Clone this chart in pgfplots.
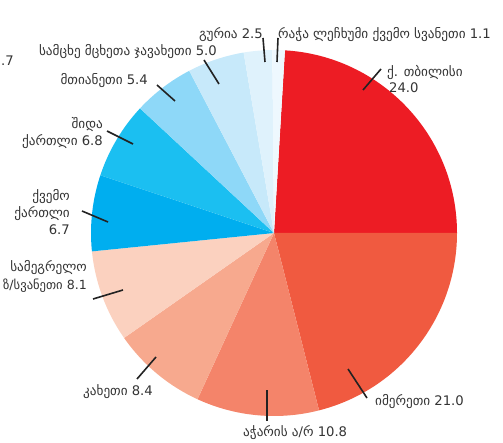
\documentclass[border=0pt]{standalone}
\usepackage{pgfplots}
\usepackage{pgfplotstable}
\pgfplotsset{compat=1.18}
\usepackage{fontspec}
\setmainfont{DejaVu Sans}
\definecolor{c0}{HTML}{ED1C24}
\definecolor{c1}{HTML}{F05A40}
\definecolor{c2}{HTML}{F4846A}
\definecolor{c3}{HTML}{F7A98E}
\definecolor{c4}{HTML}{FBD1BF}
\definecolor{c5}{HTML}{00AEEF}
\definecolor{c6}{HTML}{1BBFF1}
\definecolor{c7}{HTML}{8ED8F8}
\definecolor{c8}{HTML}{C7E9FA}
\definecolor{c9}{HTML}{DFF2FC}
\definecolor{c10}{HTML}{EEF8FE}
\definecolor{labeltext}{HTML}{333333}
\definecolor{leadercol}{HTML}{222222}
\pgfplotstableread{
region value
Tbilisi 24.0
Imereti 21.0
Adjara 10.8
Kakheti 8.4
Samegrelo 8.1
KvemoKartli 6.7
ShidaKartli 6.8
Mtianeti 5.4
Samtskhe 5.0
Guria 2.5
Racha 1.1
}\piedata
\begin{document}
\begin{tikzpicture}[lbl/.style={font=\fontsize{13.2}{15}\selectfont, text=labeltext, inner sep=0pt},
  leader/.style={line width=1.6pt, color=leadercol, no markers}]
\begin{axis}[x=1pt,y=1pt, xmin=0,xmax=503,ymin=0,ymax=442, hide axis, clip=false,
  disabledatascaling, anchor=south west, at={(0,0)}]
\pgfplotstablegetrowsof{\piedata}
\pgfmathtruncatemacro\nlast{\pgfplotsretval-1}
\def\cum{0}
\pgfmathsetmacro\total{99.8}
\pgfmathsetmacro\startang{24.0/\total*360}
\pgfplotsforeachungrouped \i in {0,...,\nlast}{%
  \pgfplotstablegetelem{\i}{value}\of{\piedata}%
  \pgfmathsetmacro\sa{\startang-\cum/\total*360}%
  \pgfmathsetmacro\cum{\cum+\pgfplotsretval}%
  \pgfmathsetmacro\ea{\startang-\cum/\total*360}%
  \edef\mywedge{\noexpand\fill[c\i] (axis cs:274,209) -- ++(\sa:183pt) arc[start angle=\sa, end angle=\ea, radius=183pt] -- cycle;}%
  \mywedge
}
% leader lines
\addplot[leader] coordinates {(363,352) (381,373)};
\addplot[leader] coordinates {(348,73) (367,44)};
\addplot[leader] coordinates {(267,52) (267,21)};
\addplot[leader] coordinates {(156,85) (137,63)};
\addplot[leader] coordinates {(123,152) (93,143)};
\addplot[leader] coordinates {(108,220) (82,231)};
\addplot[leader] coordinates {(133,298) (107,311)};
\addplot[leader] coordinates {(175,341) (157,357)};
\addplot[leader] coordinates {(219,358) (204,382)};
\addplot[leader] coordinates {(265,380) (263,404)};
\addplot[leader] coordinates {(277,380) (278,404)};
% labels
\node[lbl, anchor=base west] at (axis cs:387,365) {ქ. თბილისი};
\node[lbl, anchor=base west] at (axis cs:389,349) {24.0};
\node[lbl, anchor=base west] at (axis cs:375,37) {იმერეთი 21.0};
\node[lbl, anchor=base west] at (axis cs:243,6) {აჭარის ა/რ 10.8};
\node[lbl, anchor=base west] at (axis cs:83,47) {კახეთი 8.4};
\node[lbl, anchor=base east] at (axis cs:87,170) {სამეგრელო};
\node[lbl, anchor=base east, font=\fontsize{12.6}{15}\selectfont] at (axis cs:87,153) {ზ/სვანეთი 8.1};
\node[lbl, anchor=base east] at (axis cs:70,241) {ქვემო};
\node[lbl, anchor=base east] at (axis cs:70,224) {ქართლი};
\node[lbl, anchor=base east] at (axis cs:70,207) {6.7};
\node[lbl, anchor=base east] at (axis cs:103,313) {შიდა};
\node[lbl, anchor=base east] at (axis cs:103,296) {ქართლი 6.8};
\node[lbl, anchor=base east] at (axis cs:148,357) {მთიანეთი 5.4};
\node[lbl, anchor=base east] at (axis cs:217,386) {სამცხე მცხეთა ჯავახეთი 5.0};
\node[lbl, anchor=base east] at (axis cs:263,403) {გურია 2.5};
\node[lbl, anchor=base west] at (axis cs:278,403) {რაჭა ლეჩხუმი ქვემო სვანეთი 1.1};
\node[lbl, anchor=base east] at (axis cs:14,376) {.7};
\end{axis}
\pgfresetboundingbox
\useasboundingbox (current axis.south west) rectangle (current axis.north east);
\end{tikzpicture}
\end{document}
